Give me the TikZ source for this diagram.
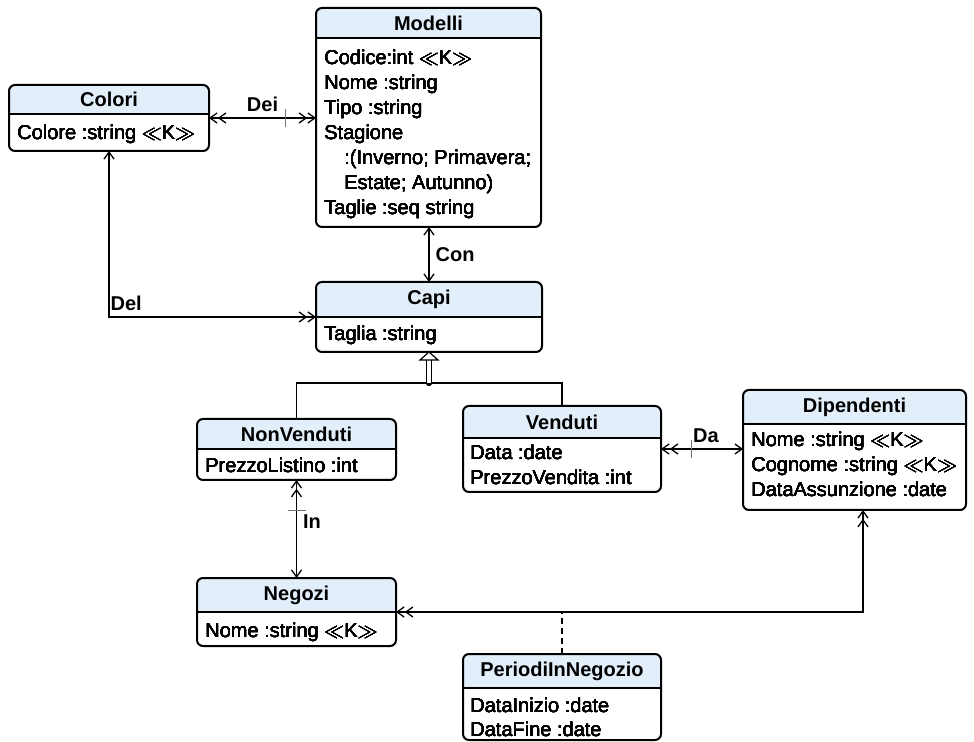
\documentclass[tikz,border=0pt]{standalone}
\usepackage{fontspec}
\setmainfont{Liberation Sans}
\usetikzlibrary{arrows.meta}
\definecolor{hdrfill}{RGB}{226,239,250}
\newcommand{\keymark}{$\ll$K$\gg$}
% one class box: name, x, y, width, height, header height, title
\newcommand{\umlclass}[7]{%
  \fill[hdrfill, rounded corners=3pt] (#2,#3) rectangle ++(#4,#6);
  \fill[hdrfill] (#2,#3+#6/2) rectangle ++(#4,#6/2);
  \node[classbox, minimum width=#4*0.5pt, minimum height=#5*0.5pt] (#1) at (#2,#3) {};
  \coordinate (#1-split) at (#2,#3+#6);
  \draw[line width=1pt] (#1-split) -- (#1-split -| #1.east);
  \node[classtitle] (#1-title) at (#2+#4/2,#3+#6/2) {#7};
}
\tikzset{
  hd/.tip={Straight Barb[length=3.5pt,width=5pt,sep=0pt]},
  tk/.tip={Bar[width=9pt,line width=0.5pt,color=black!55,sep=6pt]},
}
\begin{document}
\begin{tikzpicture}
[x=0.5pt,y=-0.5pt,
  every node/.style={font=\fontsize{10pt}{12.5pt}\selectfont},
  classbox/.style={draw,line width=1pt,rounded corners=3pt,inner sep=0pt,
    outer sep=0pt,anchor=north west},
  classtitle/.style={font=\fontsize{10pt}{12.5pt}\selectfont\bfseries,inner sep=0pt},
  attr/.style={anchor=base west,inner sep=0pt},
  assoc/.style={line width=0.65pt},
  lbl/.style={font=\fontsize{10pt}{12.5pt}\selectfont\bfseries,inner sep=3pt},
  dot/.style={shape=circle,fill,inner sep=0pt,minimum size=3.2pt},
  isa/.style={line width=0.5pt,double,double distance=1.8pt},
  isahead/.style={line width=0.6pt,fill=white,line join=miter}]
\useasboundingbox (0,0) rectangle (974,742);
%% classes
\foreach \name/\x/\y/\w/\h/\hh/\title in {colori/9/85/200/66/29/Colori,
  modelli/316/8/225/219/30/Modelli, capi/316/282/226/70/35/Capi,
  nonvenduti/197/419/199/61/30/NonVenduti, venduti/463/406/198/86/32/Venduti,
  dipendenti/743/390/223/120/34/Dipendenti, negozi/197/578/199/68/34/Negozi,
  periodi/463/654/198/86/34/PeriodiInNegozio}
  \umlclass{\name}{\x}{\y}{\w}{\h}{\hh}{\title}
%% attributes
\foreach \x/\y/\txt [count=\i] in {17/140/{Colore :string \keymark},
  324/65/{Codice:int \keymark}, 324/90/{Nome :string}, 324/115/{Tipo :string},
  324/140/{Stagione}, 344/165/{:(Inverno; Primavera;},
  344/190/{Estate; Autunno)}, 324/215/{Taglie :seq string},
  324/341/{Taglia :string}, 205/473/{PrezzoListino :int},
  470/460/{Data :date}, 470/485/{PrezzoVendita :int},
  751/447/{Nome :string \keymark}, 751/472/{Cognome :string \keymark},
  751/497/{DataAssunzione :date}, 205/637/{Nome :string \keymark},
  470/712/{DataInizio :date}, 470/736/{DataFine :date}}
  \node[attr] (attr-\i) at (\x,\y) {\txt};
%% associations
\draw[assoc,{hd[]hd[]}-{tk[]hd[]hd[]}] (colori.east)
  -- node[lbl,above] (dei) {Dei} (colori.east -| modelli.west);
\draw[assoc,{hd[]}-{hd[]}] (capi.north |- modelli.south)
  -- node[lbl,right] (con) {Con} (capi.north);
\draw[assoc,{hd[]}-{hd[]hd[]}] (colori.south)
  |- node[lbl,above right,xshift=-2.5pt] (del) {Del} (capi-split);
\draw[assoc,{hd[]}-{tk[]hd[]hd[]}] (venduti.east -| dipendenti.west)
  -- node[lbl,above,xshift=2pt] (da) {Da} (venduti.east);
\draw[assoc,{hd[]}-{tk[]hd[]hd[]}] (negozi.north)
  -- node[lbl,right,pos=0.58] (in) {In} (nonvenduti.south);
\coordinate (staffing) at (863,612);
\draw[assoc,{hd[]hd[]}-{hd[]hd[]}] (negozi.east |- staffing)
  -| (staffing |- dipendenti.south);
\draw[assoc,dash pattern=on 3pt off 2pt] (periodi.north) -- (periodi.north |- staffing);
%% specialisation
\node[dot] (junction) at (429,383) {};
\draw[assoc] (nonvenduti.north) |- (junction.center) -| (venduti.north);
\draw[isa] (junction.center) -- ([yshift=-4pt]capi.south);
\draw[isahead] (capi.south) -- ++(-9,8) -- ++(18,0) -- cycle;
\end{tikzpicture}
\end{document}
